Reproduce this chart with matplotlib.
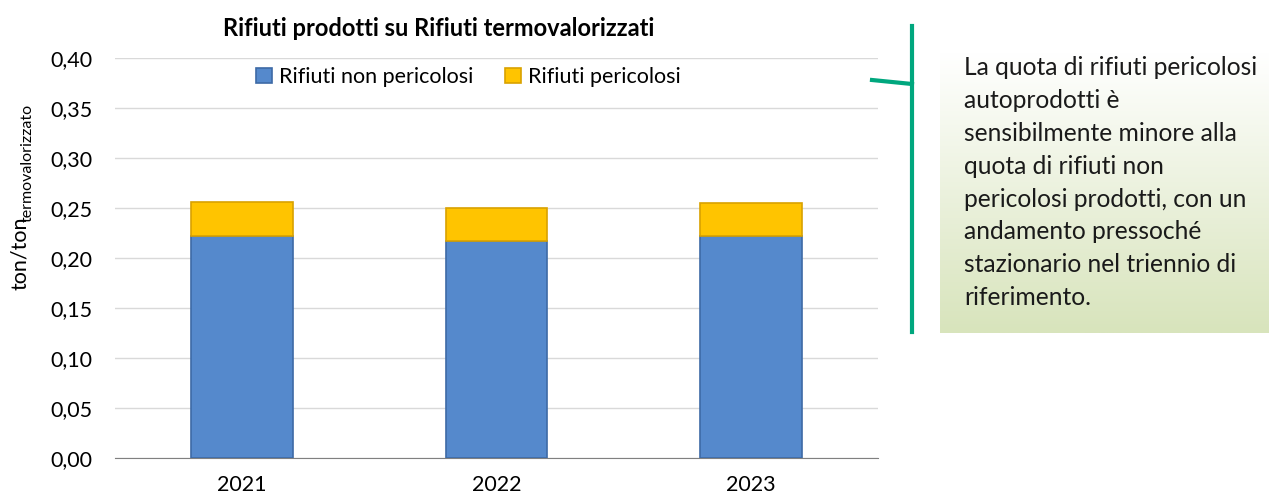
import matplotlib
matplotlib.use('Agg')
import matplotlib.pyplot as plt
import numpy as np

years = ['2021', '2022', '2023']
non_pericolosi = [0.222, 0.217, 0.222]
pericolosi = [0.034, 0.033, 0.033]
yticks = [0.0, 0.05, 0.10, 0.15, 0.20, 0.25, 0.30, 0.35, 0.40]
note = ("La quota di rifiuti pericolosi\nautoprodotti è\nsensibilmente minore alla\n"
        "quota di rifiuti non\npericolosi prodotti, con un\nandamento pressoché\n"
        "stazionario nel triennio di\nriferimento.")

plt.rcParams['font.family'] = ['Lato', 'DejaVu Sans']
W, H = 1269, 497

fig = plt.figure(figsize=(W / 100, H / 100), dpi=100)
ax = fig.add_axes([115 / W, 39 / H, 763 / W, 400 / H])

x = np.arange(len(years))
ax.bar(x, non_pericolosi, width=0.4, color='#5589cc', edgecolor='#3d6aa6', linewidth=1.2,
       label='Rifiuti non pericolosi', zorder=3)
ax.bar(x, pericolosi, width=0.4, bottom=non_pericolosi, color='#ffc400', edgecolor='#d9a200',
       linewidth=1.2, label='Rifiuti pericolosi', zorder=3)

ax.set_xlim(-0.5, 2.5)
ax.set_ylim(0, 0.40)
ax.set_xticks(x)
ax.set_xticklabels(years, fontsize=15.5)
ax.set_yticks(yticks)
ax.set_yticklabels([f'{v:.2f}'.replace('.', ',') for v in yticks], fontsize=15.5)
ax.tick_params(axis='x', length=0, pad=12)
ax.tick_params(axis='y', length=0, pad=16)
ax.yaxis.grid(True, color='#d9d9d9', linewidth=1, zorder=0)
for s in ['top', 'right', 'left']:
    ax.spines[s].set_visible(False)
ax.spines['bottom'].set_color('#808080')
ax.legend(loc='center', bbox_to_anchor=(0.463, 0.9525), ncol=2, frameon=False, fontsize=15.5,
          handlelength=0.75, handleheight=0.75, columnspacing=1.5, handletextpad=0.3)

# title and y label
fig.text(439 / W, 1 - 28 / H, 'Rifiuti prodotti su Rifiuti termovalorizzati', fontsize=17,
         fontweight='bold', ha='center', va='center')
fig.text(20 / W, 1 - 290 / H, 'ton/ton', rotation=90, ha='center', va='bottom', fontsize=15.5)
fig.text(28 / W, 1 - 222 / H, 'termovalorizzato', rotation=90, ha='center', va='bottom',
         fontsize=11.5)

# gradient note box
bx = fig.add_axes([940 / W, (H - 333) / H, 329 / W, 281 / H])
grad = np.linspace(0, 1, 100).reshape(-1, 1)
top = np.array([1.0, 1.0, 1.0])
bot = np.array([0xd8, 0xe4, 0xbc]) / 255
img = top + (bot - top) * grad[:, :, None]
bx.imshow(img, aspect='auto', extent=[0, 1, 0, 1], origin='upper')
bx.set_axis_off()

fig.text(964 / W, 1 - 56 / H, note, fontsize=17.7, va='top', ha='left', linespacing=1.52,
         color='#1a1a1a')

# green bracket
fig.add_artist(plt.Line2D([912 / W, 912 / W], [1 - 26 / H, 1 - 332 / H],
                          color='#00a77e', linewidth=3, transform=fig.transFigure))
fig.add_artist(plt.Line2D([872 / W, 912 / W], [1 - 80 / H, 1 - 84 / H],
                          color='#00a77e', linewidth=3, transform=fig.transFigure))

fig.savefig('out.png', dpi=100)
